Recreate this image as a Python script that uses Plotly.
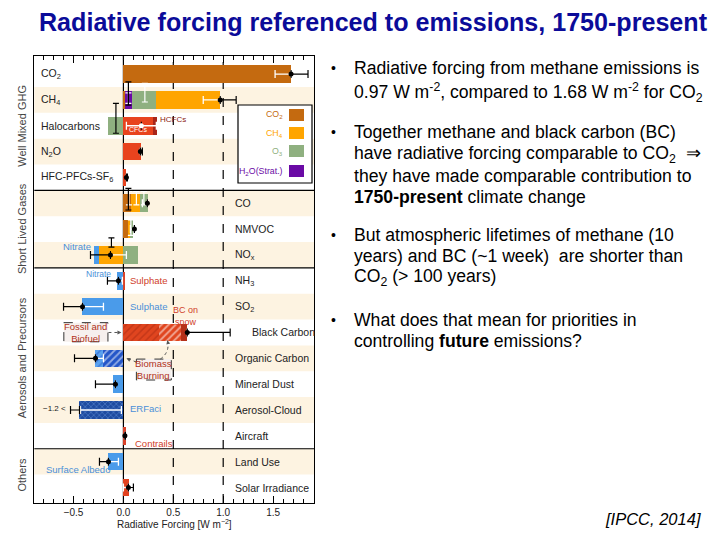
import plotly.graph_objects as go

# ---------------- data (W m-2) ----------------
categories = ["CO2", "CH4", "Halocarbons", "N2O", "HFC-PFCs-SF6", "CO", "NMVOC", "NOx",
              "NH3", "SO2", "Black Carbon", "Organic Carbon", "Mineral Dust",
              "Aerosol-Cloud", "Aircraft", "Land Use", "Solar Irradiance"]
row_labels = ["CO<sub>2</sub>", "CH<sub>4</sub>", "Halocarbons", "N<sub>2</sub>O",
              "HFC-PFCs-SF<sub>6</sub>", "CO", "NMVOC", "NO<sub>x</sub>", "NH<sub>3</sub>",
              "SO<sub>2</sub>", "Black Carbon", "Organic Carbon", "Mineral Dust",
              "Aerosol-Cloud", "Aircraft", "Land Use", "Solar Irradiance"]
label_side = ["left"] * 5 + ["right"] * 12

group_names = ["Well Mixed GHG", "Short Lived Gases", "Aerosols and Precursors", "Others"]
group_first = [0, 5, 8, 15]
group_last = [4, 7, 14, 16]

comp_co2 =        [1.68, 0.02, 0, 0, 0, 0.08, 0.05, 0, 0, 0, 0, 0, 0, 0, 0, 0, 0]
comp_h2o =        [0, 0.07, 0, 0, 0, 0, 0, 0, 0, 0, 0, 0, 0, 0, 0, 0, 0]
comp_o3 =         [0, 0.24, -0.15, 0, 0, 0.08, 0.03, 0.15, 0, 0, 0, 0, 0, 0, 0, 0, 0]
comp_ch4 =        [0, 0.64, 0, 0, 0, 0.09, 0.02, -0.24, 0, 0, 0, 0, 0, 0, 0, 0, 0]
comp_halo =       [0, 0, 0.30, 0.18, 0.03, 0, 0, 0, 0, 0, 0, 0, 0, 0, 0, 0, 0]
comp_hcfc =       [0, 0, 0.04, 0, 0, 0, 0, 0, 0, 0, 0, 0, 0, 0, 0, 0, 0]
comp_nitrate =    [0, 0, 0, 0, 0, 0, 0, -0.05, -0.06, 0, 0, 0, 0, 0, 0, 0, 0]
comp_sulph_pos =  [0, 0, 0, 0, 0, 0, 0, 0, 0.02, 0, 0, 0, 0, 0, 0, 0, 0]
comp_aerosol =    [0, 0, 0, 0, 0, 0, 0, 0, 0, -0.41, 0, 0, -0.10, 0, 0, -0.15, 0]
comp_bc_fossil =  [0, 0, 0, 0, 0, 0, 0, 0, 0, 0, 0.36, 0, 0, 0, 0, 0, 0]
comp_bc_biomass = [0, 0, 0, 0, 0, 0, 0, 0, 0, 0, 0.22, 0, 0, 0, 0, 0, 0]
comp_bc_snow =    [0, 0, 0, 0, 0, 0, 0, 0, 0, 0, 0.06, 0, 0, 0, 0, 0, 0]
comp_oc_biomass = [0, 0, 0, 0, 0, 0, 0, 0, 0, 0, 0, -0.20, 0, 0, 0, 0, 0]
comp_oc_fossil =  [0, 0, 0, 0, 0, 0, 0, 0, 0, 0, 0, -0.08, 0, 0, 0, 0, 0]
comp_erfaci =     [0, 0, 0, 0, 0, 0, 0, 0, 0, 0, 0, 0, 0, -0.44, 0, 0, 0]
comp_contrails =  [0, 0, 0, 0, 0, 0, 0, 0, 0, 0, 0, 0, 0, 0, 0.03, 0, 0]
comp_solar =      [0, 0, 0, 0, 0, 0, 0, 0, 0, 0, 0, 0, 0, 0, 0, 0, 0.06]

net_total =   [1.68, 0.97, 0.18, 0.17, 0.03, 0.24, 0.11, -0.13, -0.05, -0.41, 0.64, -0.28, -0.08, -0.44, 0.015, -0.15, 0.05]
black_lo =    [1.68, 0.97, 0.18, 0.17, 0.03, 0.24, 0.11, -0.33, -0.16, -0.60, 0.64, -0.49, -0.28, -0.53, 0.015, -0.24, 0.05]
black_hi =    [1.85, 1.13, 0.18, 0.19, 0.04, 0.24, 0.11, -0.13, -0.05, -0.41, 1.07, -0.28, -0.08, -0.44, 0.02, -0.15, 0.10]
white_lo =    [1.52, 0.80, 0.03, 0.17, 0.03, 0.19, 0.07, -0.13, -0.05, -0.41, 0.64, -0.28, -0.08, -0.43, 0.015, -0.15, 0.00]
white_hi =    [1.68, 0.97, 0.33, 0.17, 0.03, 0.24, 0.11, 0.03, -0.01, -0.20, 0.64, -0.20, -0.08, -0.02, 0.015, -0.05, 0.05]

# small component-uncertainty whiskers (x position, row position, half height in rows)
comp_tick_black_x = [0.05, -0.075, 0.05, -0.12]
comp_tick_black_y = [0.75, 1.71, 4.84, 6.52]
comp_tick_black_h = [0.45, 0.58, 0.42, 0.18]
comp_tick_white_x = [0.05, 0.215, 0.055, 0.13, 0.205, 0.075]
comp_tick_white_y = [0.93, 0.72, 4.80, 4.80, 4.80, 5.94]
comp_tick_white_h = [0.20, 0.36, 0.26, 0.26, 0.26, 0.30]

legend_names = ["CO<sub>2</sub>", "CH<sub>4</sub>", "O<sub>3</sub>", "H<sub>2</sub>O(Strat.)"]
xtick_vals = [-0.5, 0.0, 0.5, 1.0, 1.5]
xtick_text = ["\u22120.5", "0.0", "0.5", "1.0", "1.5"]

# ---------------- styles ----------------
C_CO2, C_CH4, C_O3, C_H2O = "#C46A10", "#FFA500", "#8FB080", "#6A0AA5"
C_RED, C_DRED, C_BLUE = "#E8431E", "#A8261A", "#4A9BEA"
FONT = "Liberation Sans, Arial, sans-serif"

components = [
    ("co2", comp_co2, dict(color=C_CO2)),
    ("h2o", comp_h2o, dict(color=C_H2O)),
    ("o3", comp_o3, dict(color=C_O3)),
    ("ch4", comp_ch4, dict(color=C_CH4)),
    ("halo", comp_halo, dict(color=C_RED)),
    ("hcfc", comp_hcfc, dict(color=C_DRED)),
    ("nitrate", comp_nitrate, dict(color=C_BLUE)),
    ("sulph_pos", comp_sulph_pos, dict(color="#D9432A")),
    ("aerosol", comp_aerosol, dict(color=C_BLUE)),
    ("bc_fossil", comp_bc_fossil, dict(color="#E0451F", pattern=dict(shape="/", fgcolor="#A82A12", bgcolor="#E0451F", size=5, solidity=0.3))),
    ("bc_biomass", comp_bc_biomass, dict(color="#E0451F", pattern=dict(shape="/", fgcolor="#FFFFFF", bgcolor="#E0451F", size=5, solidity=0.4))),
    ("bc_snow", comp_bc_snow, dict(color="#B5311A")),
    ("oc_biomass", comp_oc_biomass, dict(color="#2456C8", pattern=dict(shape="/", fgcolor="#FFFFFF", bgcolor="#2456C8", size=5, solidity=0.35))),
    ("oc_fossil", comp_oc_fossil, dict(color="#5BA3F0", pattern=dict(shape="/", fgcolor="#2456C8", bgcolor="#5BA3F0", size=5, solidity=0.3))),
    ("erfaci", comp_erfaci, dict(color="#1E4BA0", pattern=dict(shape="x", fgcolor="#7FB0F0", bgcolor="#1E4BA0", size=4, solidity=0.3))),
    ("contrails", comp_contrails, dict(color="#D9432A")),
    ("solar", comp_solar, dict(color="#E2421F")),
]
default_order = [c[0] for c in components]
row_order = {}
for cat in ["CO", "NMVOC"]:
    o = default_order.copy()
    o.remove("ch4")
    o.insert(o.index("o3"), "ch4")
    row_order[cat] = o

# stacking: positive parts go right from 0, negative parts go left from 0
comp_lookup = {c[0]: c[1] for c in components}
bases = {c[0]: [0.0] * len(categories) for c in components}
for i, cat in enumerate(categories):
    pos, neg = 0.0, 0.0
    for name in row_order.get(cat, default_order):
        v = comp_lookup[name][i]
        if v > 0:
            bases[name][i] = pos
            pos += v
        elif v < 0:
            bases[name][i] = neg
            neg += v

fig = go.Figure()
BAR_W = 0.68
for name, vals, mk in components:
    ys = [i for i, v in enumerate(vals) if v != 0]
    fig.add_trace(go.Bar(
        orientation="h", y=ys, x=[vals[i] for i in ys], base=[bases[name][i] for i in ys],
        width=BAR_W, marker=dict(line=dict(width=0), **mk), showlegend=False,
        hoverinfo="skip"))

# component whiskers (I-shaped)
for xs, ys, hs, col in [(comp_tick_white_x, comp_tick_white_y, comp_tick_white_h, "white"),
                        (comp_tick_black_x, comp_tick_black_y, comp_tick_black_h, "black")]:
    fig.add_trace(go.Scatter(
        x=xs, y=ys, mode="markers", marker=dict(size=1, color="rgba(0,0,0,0)"),
        error_y=dict(type="data", array=hs, color=col, thickness=1.2, width=3),
        showlegend=False, hoverinfo="skip"))

rows = list(range(len(categories)))
# white (inner) uncertainty whiskers
fig.add_trace(go.Scatter(
    x=net_total, y=rows, mode="markers", marker=dict(size=1, color="rgba(0,0,0,0)"),
    error_x=dict(type="data", symmetric=False,
                 array=[h - n for h, n in zip(white_hi, net_total)],
                 arrayminus=[n - l for l, n in zip(white_lo, net_total)],
                 color="white", thickness=1.3, width=4),
    showlegend=False, hoverinfo="skip"))
# black (outer) uncertainty whiskers and net dots
dot_colors = ["black"] * len(categories)
dot_colors[2] = "white"
dot_colors[13] = "rgba(0,0,0,0)"
fig.add_trace(go.Scatter(
    x=net_total, y=rows, mode="markers", marker=dict(size=5, color=dot_colors),
    error_x=dict(type="data", symmetric=False,
                 array=[h - n for h, n in zip(black_hi, net_total)],
                 arrayminus=[n - l for l, n in zip(black_lo, net_total)],
                 color="black", thickness=1.2, width=4),
    showlegend=False, hoverinfo="skip"))

# page has an 8 px body margin: the figure is 712x532 placed at (8, 8)
OFF = 8
W, H = 720 - OFF, 540 - OFF
def px(x): return (x - OFF) / W
def py(y): return 1 - (y - OFF) / H

XR = [-0.893, 1.913]
YR = [16.6, -0.70]

shapes = []
# alternating background bands
for i in range(len(categories)):
    if i % 2 == 1:
        shapes.append(dict(type="rect", xref="x domain", yref="y", x0=0, x1=1,
                           y0=i - 0.5, y1=i + 0.5, fillcolor="#FDF3E1", line=dict(width=0), layer="below"))
# reference lines
shapes.append(dict(type="line", xref="x", yref="y domain", x0=0, x1=0, y0=0, y1=1,
                   line=dict(color="black", width=1.2), layer="below"))
for xv in [0.5, 1.0]:
    shapes.append(dict(type="line", xref="x", yref="y domain", x0=xv, x1=xv, y0=0, y1=1,
                       line=dict(color="black", width=1.2, dash="dash"), layer="below"))
# group separators
for g in group_last[:-1]:
    shapes.append(dict(type="line", xref="x domain", yref="y", x0=0, x1=1, y0=g + 0.5, y1=g + 0.5,
                       line=dict(color="black", width=1.2)))
# callout boxes
shapes.append(dict(type="rect", xref="x", yref="y", x0=-0.597, x1=-0.155, y0=9.62, y1=10.36,
                   fillcolor="#F6F0EE", line=dict(color="#333", width=1, dash="dash")))
shapes.append(dict(type="rect", xref="x", yref="y", x0=0.13, x1=0.48, y0=11.03, y1=11.84,
                   fillcolor="#F6F0EE", line=dict(color="#333", width=1, dash="dash")))
shapes.append(dict(type="line", xref="x", yref="y", x0=-0.15, x1=-0.03, y0=10.0, y1=10.0,
                   line=dict(color="#555", width=1, dash="dot")))
shapes.append(dict(type="line", xref="x", yref="y", x0=0.13, x1=0.04, y0=11.15, y1=11.0,
                   line=dict(color="#555", width=1, dash="dot")))
shapes.append(dict(type="path", xref="x", yref="y", path="M 0.37,11.03 Q 0.47,10.75 0.44,10.32",
                   line=dict(color="#555", width=1, dash="dot")))

# legend box
shapes.append(dict(type="rect", xref="paper", yref="paper", x0=px(238), x1=px(312), y0=py(183), y1=py(105),
                   fillcolor="white", line=dict(color="black", width=1.2)))
legend_colors = [C_CO2, C_CH4, C_O3, C_H2O]
legend_y = [115, 133, 151, 171]
for c, yy in zip(legend_colors, legend_y):
    shapes.append(dict(type="rect", xref="paper", yref="paper", x0=px(289), x1=px(304),
                       y0=py(yy + 6), y1=py(yy - 6), fillcolor=c, line=dict(width=0)))

ann = []
# title
ann.append(dict(xref="paper", yref="paper", x=px(37), y=py(22), xanchor="left", yanchor="middle",
                text="<b>Radiative forcing referenced to emissions, 1750-present</b>", showarrow=False,
                font=dict(family=FONT, size=25.1, color="#0B0B99")))
# bullets
bullet_lines = [
    [(68, "Radiative forcing from methane emissions is"),
     (92, "0.97 W m<sup>-2</sup>, compared to 1.68 W m<sup>-2</sup> for CO<sub>2</sub>")],
    [(132, "Together methane and black carbon (BC)"),
     (154, "have radiative forcing comparable to CO<sub>2</sub>  \u21d2"),
     (176, "they have made comparable contribution to"),
     (197, "<b>1750-present</b> climate change")],
    [(235, "But atmospheric lifetimes of methane (10"),
     (256, "years) and BC (~1 week)  are shorter than"),
     (277, "CO<sub>2</sub> (> 100 years)")],
    [(320, "What does that mean for priorities in"),
     (341, "controlling <b>future</b> emissions?")],
]
for block in bullet_lines:
    ann.append(dict(xref="paper", yref="paper", x=px(333), y=py(block[0][0]), xanchor="center",
                    yanchor="middle", text="\u2022", showarrow=False,
                    font=dict(family=FONT, size=14, color="black")))
    for yy, t in block:
        ann.append(dict(xref="paper", yref="paper", x=px(352), y=py(yy), xanchor="left", yanchor="middle",
                        text=t, showarrow=False, font=dict(family=FONT, size=17.6, color="black")))
ann.append(dict(xref="paper", yref="paper", x=px(703), y=py(519), xanchor="right", yanchor="middle",
                text="<i>[IPCC, 2014]</i>", showarrow=False, font=dict(family=FONT, size=16.5, color="black")))

# row labels
for i, (lab, side) in enumerate(zip(row_labels, label_side)):
    if side == "left":
        xx = -0.845
    else:
        xx = 1.27 if categories[i] == "Black Carbon" else 1.10
    ann.append(dict(xref="x", yref="y", x=xx, y=i, xanchor="left", yanchor="middle", text=lab,
                    showarrow=False, font=dict(family=FONT, size=10.5, color="#222")))
# group labels
for name, a, b in zip(group_names, group_first, group_last):
    ann.append(dict(xref="paper", yref="y", x=px(22), y=(a + b) / 2, xanchor="center", yanchor="middle",
                    text=name, textangle=-90, showarrow=False, font=dict(family=FONT, size=11, color="#444")))
# legend labels
for name, c, yy in zip(legend_names, legend_colors, legend_y):
    ann.append(dict(xref="paper", yref="paper", x=px(285), y=py(yy), xanchor="right", yanchor="middle",
                    text=name, showarrow=False, font=dict(family=FONT, size=8.8, color=c)))
# in-chart notes
notes = [
    (0.35, 1.74, "left", "HCFCs", 8, "#8B1A10"),
    (0.04, 2.15, "left", "CFCs", 7, "white"),
    (-0.30, 6.68, "right", "Nitrate", 9.5, "#4A8FD8"),
    (-0.10, 7.74, "right", "Nitrate", 8.5, "#4A8FD8"),
    (0.05, 7.97, "left", "Sulphate", 9.5, "#D0402A"),
    (0.05, 8.98, "left", "Sulphate", 9.5, "#4A8FD8"),
    (0.62, 9.38, "center", "BC on<br>snow", 9, "#D0402A"),
    (-0.376, 9.99, "center", "Fossil and<br>Biofuel", 9.5, "#B03020"),
    (0.305, 11.44, "center", "Biomass<br>Burning", 9.5, "#B03020"),
    (-0.56, 12.93, "right", "\u22121.2 <", 8, "#222"),
    (0.05, 12.93, "left", "ERFaci", 9.5, "#4A8FD8"),
    (0.10, 14.28, "left", "Contrails", 9.5, "#D0402A"),
    (-0.80, 15.29, "left", "Surface Albedo", 9.5, "#4A8FD8"),
]
for x, y, anc, t, s, c in notes:
    ann.append(dict(xref="x", yref="y", x=x, y=y, xanchor=anc, yanchor="middle", text=t,
                    showarrow=False, font=dict(family=FONT, size=s, color=c)))
# arrowheads on dotted callouts
ann.append(dict(xref="x", yref="y", x=-0.02, y=10.0, ax=-0.07, ay=10.0, axref="x", ayref="y",
                showarrow=True, arrowhead=2, arrowsize=0.8, arrowwidth=1, arrowcolor="#555", text=""))
ann.append(dict(xref="x", yref="y", x=0.03, y=11.0, ax=0.08, ay=11.08, axref="x", ayref="y",
                showarrow=True, arrowhead=2, arrowsize=0.8, arrowwidth=1, arrowcolor="#555", text=""))
ann.append(dict(xref="x", yref="y", x=0.44, y=10.3, ax=0.45, ay=10.45, axref="x", ayref="y",
                showarrow=True, arrowhead=2, arrowsize=0.8, arrowwidth=1, arrowcolor="#555", text=""))

fig.update_layout(
    width=W, height=H, margin=dict(l=0, r=0, t=0, b=0),
    paper_bgcolor="white", plot_bgcolor="white",
    barmode="overlay", bargap=0,
    shapes=shapes, annotations=ann,
    font=dict(family=FONT, color="#222"),
    xaxis=dict(domain=[px(34.3), px(314.3)], range=XR, showgrid=False, zeroline=False,
               tickvals=xtick_vals, ticktext=xtick_text, ticks="inside", ticklen=7, tickwidth=1,
               tickcolor="black", mirror="allticks", showline=True, linecolor="black", linewidth=1.2,
               tickfont=dict(family=FONT, size=10, color="#222"),
               minor=dict(tickvals=[round(-0.8 + 0.1 * k, 2) for k in range(27)], ticks="inside",
                          ticklen=4, tickcolor="black", showgrid=False),
               title=dict(text="Radiative Forcing [W m<sup>\u22122</sup>]", standoff=2,
                          font=dict(family=FONT, size=10, color="#222"))),
    yaxis=dict(domain=[py(503), py(56)], range=YR, showgrid=False, zeroline=False,
               showticklabels=False, ticks="", showline=True, linecolor="black", linewidth=1.2,
               mirror=True),
)

fig.write_html("out.html")
